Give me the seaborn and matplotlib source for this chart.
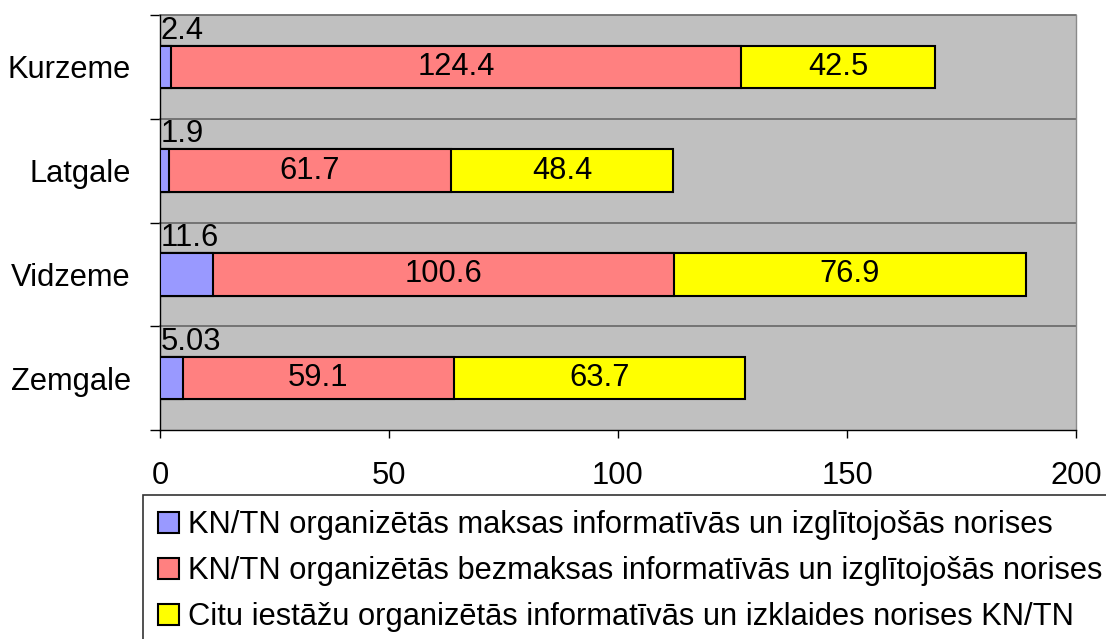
import numpy as np
import pandas as pd
import matplotlib
matplotlib.use("Agg")
import matplotlib.pyplot as plt
import seaborn as sns
from matplotlib.patches import Patch

regions = ["Kurzeme", "Latgale", "Vidzeme", "Zemgale"]
paid = [2.4, 1.9, 11.6, 5.03]
free = [124.4, 61.7, 100.6, 59.1]
other = [42.5, 48.4, 76.9, 63.7]
series_names = [
    "KN/TN organizētās maksas informatīvās un izglītojošās norises",
    "KN/TN organizētās bezmaksas informatīvās un izglītojošās norises",
    "Citu iestāžu organizētās informatīvās un izklaides norises KN/TN",
]
colors = ["#9999FF", "#FF8080", "#FFFF00"]
xticks = [0, 50, 100, 150, 200]

sns.set_style("white")
plt.rcParams["font.family"] = ["Liberation Sans", "DejaVu Sans"]
for k in ["text.color", "axes.labelcolor", "xtick.color", "ytick.color"]:
    plt.rcParams[k] = "black"
FS = 22.2

fig = plt.figure(figsize=(11.06, 6.39), dpi=100)
ax = fig.add_axes([160 / 1106, 1 - 430 / 639, 916 / 1106, 415 / 639])
ax.set_facecolor("#C0C0C0")

df = pd.DataFrame({"region": regions, "paid": paid, "free": free, "other": other})
df["c1"] = df["paid"]
df["c2"] = df["paid"] + df["free"]
df["c3"] = df["c2"] + df["other"]

BW = 0.41
for col, color in [("c3", colors[2]), ("c2", colors[1]), ("c1", colors[0])]:
    sns.barplot(data=df, x=col, y="region", orient="h", color=color, width=BW,
                edgecolor="black", linewidth=1.5, saturation=1, ax=ax, zorder=3)

ax.set_xlim(0, 200)
ax.set_ylim(len(regions) - 0.5, -0.5)
ax.set_xlabel("")
ax.set_ylabel("")

for b in np.arange(-0.5, len(regions) - 0.5, 1.0):
    ax.axhline(b, color="#6e6e6e", lw=1.3, zorder=1, clip_on=False)

# value labels
for i, r in df.iterrows():
    ax.annotate(f"{r['paid']:g}", xy=(0, i - BW / 2), xytext=(1, 7),
                textcoords="offset pixels", ha="left", va="baseline",
                fontsize=FS, color="black", zorder=5)
    ax.text(r["c1"] + r["free"] / 2, i, f"{r['free']:g}", ha="center", va="center",
            fontsize=FS, color="black", zorder=5)
    ax.text(r["c2"] + r["other"] / 2, i, f"{r['other']:g}", ha="center", va="center",
            fontsize=FS, color="black", zorder=5)

ax.set_xticks(xticks)
ax.set_xticklabels([str(t) for t in xticks])
ax.tick_params(axis="x", direction="out", length=6, width=1, pad=16,
               labelsize=FS, colors="black", bottom=True)
ax.tick_params(axis="y", which="major", length=0, pad=21, labelsize=FS,
               labelcolor="black", left=True)
ax.set_yticks(np.arange(-0.5, len(regions), 1.0), minor=True)
ax.tick_params(axis="y", which="minor", direction="out", length=7, width=1,
               color="black", left=True)

for s in ["left", "bottom"]:
    ax.spines[s].set_color("black")
    ax.spines[s].set_linewidth(1)
ax.spines["top"].set_visible(False)
ax.spines["right"].set_color("#8a8a8a")
ax.spines["right"].set_linewidth(1)

handles = [Patch(facecolor=c, edgecolor="black", linewidth=1.5) for c in colors]
leg = fig.legend(handles, series_names, loc="upper left",
                 bbox_to_anchor=(143 / 1106, 1 - 495 / 639), fontsize=FS,
                 handlelength=0.68, handleheight=0.68, handletextpad=0.28,
                 borderpad=0.5, labelspacing=0.52, frameon=True, fancybox=False,
                 edgecolor="black", borderaxespad=0)
leg.get_frame().set_linewidth(1.2)
for t in leg.get_texts():
    t.set_color("black")

fig.savefig("out.png", dpi=100, facecolor="white")
